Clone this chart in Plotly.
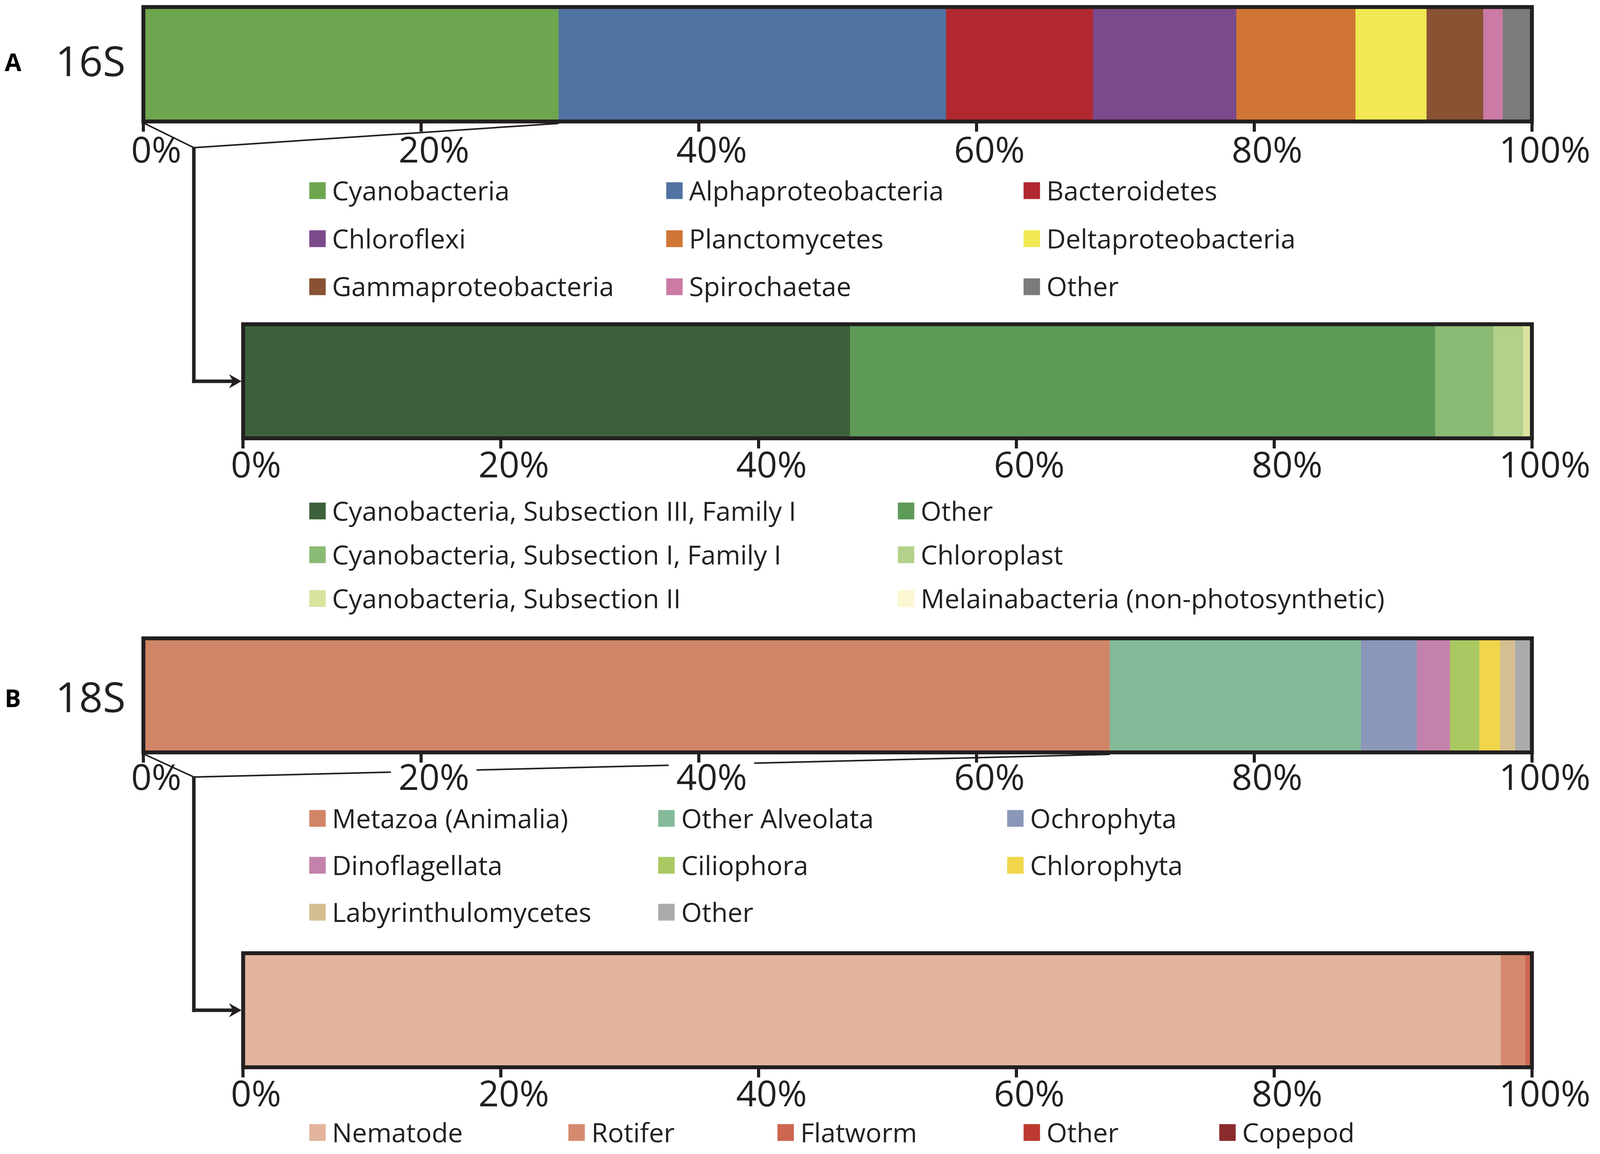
import plotly.graph_objects as go

# ---------------- data ----------------
s16_labels = ["Cyanobacteria", "Alphaproteobacteria", "Bacteroidetes", "Chloroflexi",
              "Planctomycetes", "Deltaproteobacteria", "Gammaproteobacteria", "Spirochaetae", "Other"]
s16_values = [29.9, 27.9, 10.6, 10.3, 8.6, 5.1, 4.1, 1.4, 2.1]
s16_colors = ["#6EA64F", "#5073A1", "#B2282F", "#7B4A8B", "#D07535", "#F1E853", "#885233", "#CB7BA6", "#7B7B7B"]

cy_labels = ["Cyanobacteria, Subsection III, Family I", "Other", "Cyanobacteria, Subsection I, Family I",
             "Chloroplast", "Cyanobacteria, Subsection II", "Melainabacteria (non-photosynthetic)"]
cy_values = [47.1, 45.4, 4.5, 2.3, 0.6, 0.1]
cy_colors = ["#3C613A", "#5E9A58", "#8BBA75", "#B4D18B", "#D8E49E", "#FBF7D1"]

s18_labels = ["Metazoa (Animalia)", "Other Alveolata", "Ochrophyta", "Dinoflagellata",
              "Ciliophora", "Chlorophyta", "Labyrinthulomycetes", "Other"]
s18_values = [69.6, 18.1, 4.0, 2.4, 2.1, 1.5, 1.1, 1.2]
s18_colors = ["#D08566", "#85BA99", "#8A97B9", "#C382AB", "#AAC962", "#F1D54A", "#D5BE91", "#ABABAB"]

mz_labels = ["Nematode", "Rotifer", "Flatworm", "Other", "Copepod"]
mz_values = [97.6, 1.9, 0.35, 0.1, 0.05]
mz_colors = ["#E2B49B", "#D58A6F", "#CD6650", "#BC3A30", "#8B2A2C"]

tick_vals = [0, 20, 40, 60, 80, 100]
tick_text = ["0%", "20%", "40%", "60%", "80%", "100%"]

# ---------------- layout helpers (reference pixels -> paper fractions) ----------------
PAGE_W, PAGE_H = 4186, 2954
OFF = 8                       # default body margin of the html page
W, H = PAGE_W - 2 * OFF, PAGE_H - 2 * OFF
INK = "#231f20"
FONT = "Open Sans"


def px(x):
    return (x - OFF) / W


def py(y):
    return 1 - (y - OFF) / H


# panels: x-left, x-right, y-top, y-bottom (border centre lines), label standoff
panels = [
    dict(x0=375, x1=4008, y0=18, y1=311, so=-31),
    dict(x0=636, x1=4008, y0=830, y1=1122, so=-36),
    dict(x0=375, x1=4008, y0=1634, y1=1926, so=-40),
    dict(x0=636, x1=4008, y0=2440, y1=2732, so=-36),
]
series = [
    (s16_labels, s16_values, s16_colors),
    (cy_labels, cy_values, cy_colors),
    (s18_labels, s18_values, s18_colors),
    (mz_labels, mz_values, mz_colors),
]

fig = go.Figure()
layout = dict(
    autosize=True,
    margin=dict(l=0, r=0, t=0, b=0, pad=0),
    paper_bgcolor="white", plot_bgcolor="white",
    barmode="stack", showlegend=False,
    font=dict(family=FONT, color=INK),
)
shapes = []
annotations = []

for i, (p, (labs, vals, cols)) in enumerate(zip(panels, series), start=1):
    sfx = "" if i == 1 else str(i)
    xa, ya = "x" + sfx, "y" + sfx
    for lab, v, c in zip(labs, vals, cols):
        fig.add_trace(go.Bar(x=[v], y=[0], orientation="h", width=1, name=lab,
                             marker=dict(color=c, line=dict(width=0)),
                             xaxis=xa, yaxis=ya, hoverinfo="name+x"))
    layout["xaxis" + sfx] = dict(
        domain=[px(p["x0"]), px(p["x1"])], anchor=ya, range=[0, 100],
        tickmode="array", tickvals=tick_vals, ticktext=tick_text,
        ticks="outside", ticklen=25, tickwidth=8, tickcolor=INK,
        showline=False, showgrid=False, zeroline=False, automargin=False,
        tickfont=dict(family=FONT, size=92, color=INK),
        ticklabelshift=33, ticklabelstandoff=p["so"], fixedrange=True,
    )
    layout["yaxis" + sfx] = dict(
        domain=[py(p["y1"]), py(p["y0"])], anchor=xa, range=[-0.5, 0.5],
        visible=False, fixedrange=True,
    )
    shapes.append(dict(type="rect", xref=xa + " domain", yref=ya + " domain",
                       x0=0, x1=1, y0=0, y1=1, layer="above",
                       line=dict(color=INK, width=10), fillcolor="rgba(0,0,0,0)"))


def seg(x0, y0, x1, y1, w):
    shapes.append(dict(type="line", xref="paper", yref="paper",
                       x0=px(x0), y0=py(y0), x1=px(x1), y1=py(y1),
                       line=dict(color=INK, width=w), layer="above"))


def arrow_head(xt, yc):
    path = (f"M {px(xt)},{py(yc)} L {px(xt-31)},{py(yc-17)} "
            f"L {px(xt-21)},{py(yc)} L {px(xt-31)},{py(yc+17)} Z")
    shapes.append(dict(type="path", xref="paper", yref="paper", path=path,
                       fillcolor=INK, line=dict(color=INK, width=1), layer="above"))


KNEE_X = 507
LABEL_HALF = 112       # half width of the white gap around a tick label (px)
SHIFT = 33


def connector(main, sub, first_value, knee_y):
    bottom = main["y1"] + 5
    end_x = main["x0"] + first_value / 100 * (main["x1"] - main["x0"])

    def yat(x):
        return knee_y + (x - KNEE_X) / (end_x - KNEE_X) * (bottom - knee_y)

    # short diagonal from bar origin
    seg(main["x0"] + 3, bottom, KNEE_X, knee_y, 4)
    # long diagonal from end of the expanded segment, broken behind tick labels it runs into
    gaps = []
    for tv in tick_vals:
        cx = main["x0"] + tv / 100 * (main["x1"] - main["x0"]) + SHIFT
        if KNEE_X < cx < end_x and yat(cx) > bottom + 23:
            gaps.append((cx - LABEL_HALF, cx + LABEL_HALF))
    xs = [KNEE_X]
    for g0, g1 in gaps:
        xs += [g0, g1]
    xs.append(end_x)
    for a, b in zip(xs[0::2], xs[1::2]):
        seg(a, yat(a), b, yat(b), 4)
    # vertical and horizontal leg with arrow
    yc = (sub["y0"] + sub["y1"]) / 2
    seg(KNEE_X, knee_y - 2, KNEE_X, yc + 4.5, 9)
    seg(KNEE_X - 4.5, yc, sub["x0"] - 18, yc, 9)
    arrow_head(sub["x0"] - 5, yc)


connector(panels[0], panels[1], s16_values[0], 378)
connector(panels[2], panels[3], s18_values[0], 1989)


# ---------------- legends (drawn) ----------------
SW = 43


def legend(labels, colors, cols, rows):
    k = 0
    for ry in rows:
        for cx in cols:
            if k >= len(labels):
                return
            shapes.append(dict(type="rect", xref="paper", yref="paper",
                               x0=px(cx), x1=px(cx + SW), y0=py(ry - SW / 2), y1=py(ry + SW / 2),
                               fillcolor=colors[k], line=dict(width=0)))
            annotations.append(dict(text=labels[k], xref="paper", yref="paper",
                                    x=px(cx + SW + 15), y=py(ry - 2), xanchor="left", yanchor="middle",
                                    showarrow=False, font=dict(family=FONT, size=68, color=INK)))
            k += 1


legend(s16_labels, s16_colors, [809, 1743, 2678], [488, 611, 734])
legend(cy_labels, cy_colors, [809, 2349], [1308, 1420, 1532])
legend(s18_labels, s18_colors, [809, 1722, 2635], [2095, 2215, 2335])
legend(mz_labels, mz_colors, [809, 1487, 2034, 2678, 3190], [2899])

# panel titles
for letter, name, yc in [("A", "16S", 158), ("B", "18S", 1786)]:
    annotations.append(dict(text=f"<b>{letter}</b>", xref="paper", yref="paper",
                            x=px(10), y=py(yc), xanchor="left", yanchor="middle", showarrow=False,
                            font=dict(family=FONT, size=62, color="#000000")))
    annotations.append(dict(text=name, xref="paper", yref="paper",
                            x=px(236), y=py(yc - 4), xanchor="center", yanchor="middle", showarrow=False,
                            font=dict(family=FONT, size=106, color=INK)))

layout["shapes"] = shapes
layout["annotations"] = annotations
fig.update_layout(**layout)
fig.write_html("out.html", default_width="calc(100vw - 16px)", default_height="calc(100vh - 16px)")
